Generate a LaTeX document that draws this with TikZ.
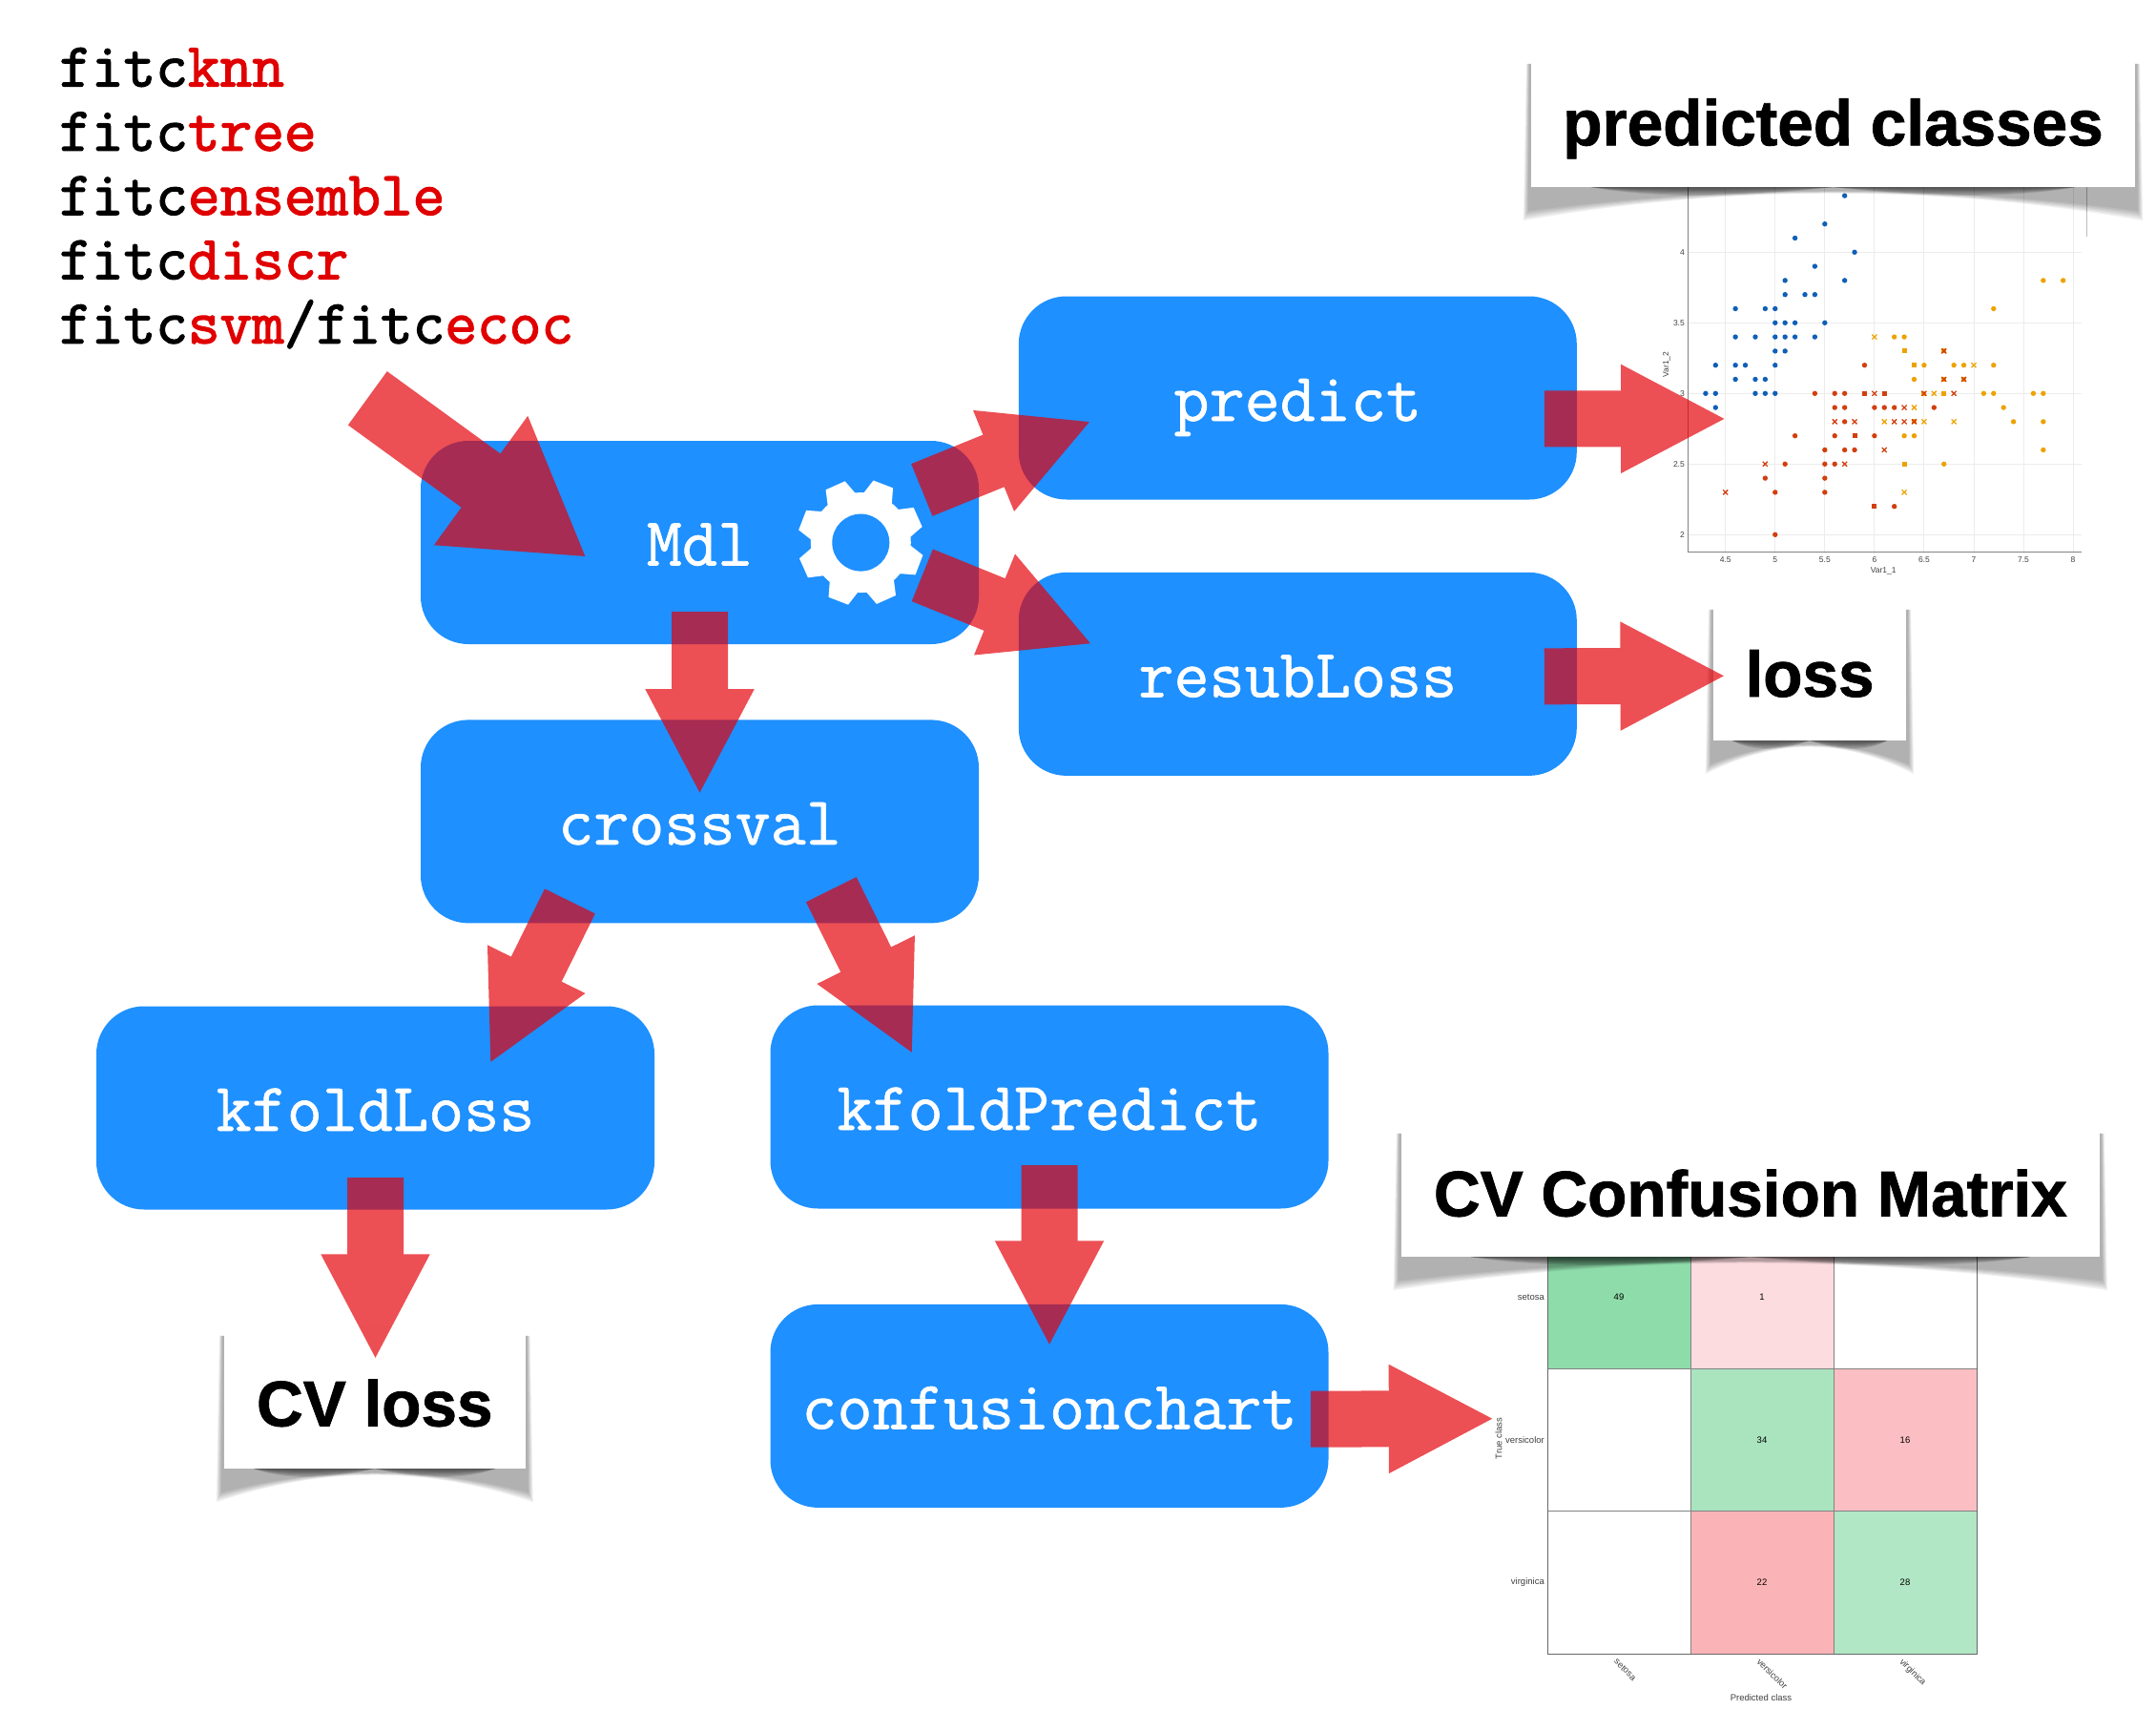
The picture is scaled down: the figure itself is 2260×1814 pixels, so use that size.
\documentclass[tikz,border=0pt]{standalone}
\usepackage{fontspec}
\usepackage{tikz}
\usetikzlibrary{arrows.meta, positioning, calc}
\newfontfamily\helv{Liberation Sans}
\newfontfamily\codefont[FakeBold=2]{Latin Modern Mono}
\newfontfamily\fnfont[FakeBold=1]{Latin Modern Mono}

\definecolor{fnblue}{RGB}{30,144,255}
\definecolor{fitred}{RGB}{224,0,0}
\definecolor{arrowred}{RGB}{228,0,7}
\definecolor{ptblue}{RGB}{15,95,184}
\definecolor{ptred}{RGB}{210,63,14}
\definecolor{ptorange}{RGB}{237,162,0}
\definecolor{gridgray}{RGB}{236,236,236}
\definecolor{axisgray}{RGB}{130,130,130}

\pgfdeclarelayer{plots}
\pgfdeclarelayer{shadows}
\pgfsetlayers{plots,shadows,main}

% soft shadow of a curled sheet under a label
\newcommand{\curlshadow}[1]{%
  \foreach \d/\s in {35/8,33/7,31/6,29/5,27/4,25/3}{
    \fill[black, opacity=.06] ([shift={(-.6*\s,10)}]#1.north west) -- ([shift={(-\s,\d)}]#1.south west)
      .. controls ([shift={(0,-3)}]$(#1.south west)!.33!(#1.south east)$) and ([shift={(0,-3)}]$(#1.south west)!.67!(#1.south east)$)
      .. ([shift={(\s,\d)}]#1.south east) -- ([shift={(.6*\s,10)}]#1.north east) -- cycle;
  }
  \foreach \t in {1.5,3,...,10.5}{
    \fill[black, opacity=.1] ($(#1.south west)!.1!(#1.south east)$)
      .. controls ([shift={(0,1.1*\t)}]$(#1.south west)!.2!(#1.south east)$) and ([shift={(0,1.1*\t)}]$(#1.south west)!.34!(#1.south east)$)
      .. ($(#1.south west)!.5!(#1.south east)$) -- cycle;
    \fill[black, opacity=.1] ($(#1.south east)!.1!(#1.south west)$)
      .. controls ([shift={(0,1.1*\t)}]$(#1.south east)!.2!(#1.south west)$) and ([shift={(0,1.1*\t)}]$(#1.south east)!.34!(#1.south west)$)
      .. ($(#1.south east)!.5!(#1.south west)$) -- cycle;
  }}

\begin{document}
\begin{tikzpicture}[
    x=1pt, y=-1pt,
    fnbox/.style={fill=fnblue, rounded corners=50pt, minimum width=585pt, minimum height=213pt, inner sep=0pt,
        text height=48pt, text depth=0pt, text=white, font=\fnfont\fontsize{72}{72}\selectfont},
    codeline/.style={anchor=base west, inner sep=0pt, font=\codefont\fontsize{65.4}{65.4}\selectfont},
    sheet/.style={fill=white, inner sep=0pt, text depth=0pt, font=\helv\bfseries\addfontfeature{FakeBold=1.2}\fontsize{67.5}{67.5}\selectfont},
    bigarrow/.style={draw=arrowred, line width=59pt, shorten >=-3pt, -{Triangle[length=111pt, width=105.5pt]}},
    fitarrow/.style={draw=arrowred, line width=69.6pt, shorten >=-3pt, -{Triangle[length=137pt, width=157pt]}},
    ticklabel/.style={inner sep=0pt, text=black!75, font=\helv\fontsize{8.5}{8.5}\selectfont},
    matlabel/.style={inner sep=0pt, text=black!75, font=\helv\fontsize{9.5}{9.5}\selectfont},
    cell/.style={draw=axisgray, line width=.8pt},
    cellnum/.style={inner sep=0pt, font=\helv\fontsize{9.5}{9.5}\selectfont}
]
\useasboundingbox (0,0) rectangle (2260,1814);

% Code lines
\node[codeline] (fitknn) at (62,90.5) {fitc\textcolor{fitred}{knn}};
\node[codeline] (fittree) at (62,157.8) {fitc\textcolor{fitred}{tree}};
\node[codeline] (fitens) at (62,225.1) {fitc\textcolor{fitred}{ensemble}};
\node[codeline] (fitdiscr) at (62,292.4) {fitc\textcolor{fitred}{discr}};
\node[codeline] (fitsvm) at (62,359.7) {fitc\textcolor{fitred}{svm}/fitc\textcolor{fitred}{ecoc}};

% Function boxes
\node[fnbox] (mdl) at (733.5,568.5) {Mdl};
\node[fnbox, below=79pt of mdl] (crossval) {crossval};
\node[fnbox] (predict) at (1360.3,417) {predict};
\node[fnbox, below=76pt of predict] (resubloss) {resubLoss};
\node[fnbox] (kfoldloss) at (393.5,1161) {kfoldLoss};
\node[fnbox] (kfoldpredict) at (1100,1160) {kfoldPredict};
\node[fnbox, below=100pt of kfoldpredict] (confusion) {confusionchart};

% Gear
\begin{scope}[shift={(902.3,568.6)}]
\fill[white] (0,0) circle (52.5);
\foreach \a in {0,45,...,315}{
  \fill[white, rotate=\a+24] (49,-16) -- (65.5,-11) -- (65.5,11) -- (49,16) -- cycle;
}
\fill[fnblue] (0,0) circle (30);
\end{scope}

% Scatter plot of the classes
\begin{pgfonlayer}{plots}
\begin{scope}[shift={(1340.25,856.3)}, x=104.1pt, y=148pt]
\foreach \g in {4.5,5,...,8} \draw[gridgray, line width=.9pt] (\g,1.87) -- (\g,4.5);
\foreach \g in {2,2.5,...,4} \draw[gridgray, line width=.9pt] (4.12,\g) -- (8.09,\g);
\draw[axisgray, line width=1pt] (4.12,4.5) -- (4.12,1.88) -- (8.09,1.88);
\draw[gridgray!80!black, line width=.9pt] (8.134,4.5) -- (8.134,4.11);
\foreach \a/\b in {5.7/4.4,5.5/4.2,5.2/4.1,5.8/4,5.4/3.9,5.1/3.8,5.7/3.8,5.1/3.7,5.3/3.7,5.4/3.7,4.6/3.6,4.9/3.6,5/3.6,5/3.5,5.1/3.5,5.2/3.5,5.5/3.5,4.6/3.4,4.8/3.4,5/3.4,5.1/3.4,5.2/3.4,5.4/3.4,5/3.3,5.1/3.3,4.4/3.2,4.6/3.2,4.7/3.2,5/3.2,4.6/3.1,4.8/3.1,4.9/3.1,4.3/3,4.4/3,4.8/3,4.9/3,5/3,4.4/2.9}
  \fill[ptblue] (\a,\b) circle[radius=2.7pt];
\foreach \a/\b in {5.9/3.2,5.4/3,5.6/3,5.7/3,5.6/2.9,5.7/2.9,6/2.9,6.1/2.9,6.2/2.9,6.6/2.9,5.7/2.8,5.2/2.7,5.6/2.7,6/2.7,5.5/2.6,5.7/2.6,5.8/2.6,5.1/2.5,5.5/2.5,5.6/2.5,4.9/2.4,5.5/2.4,5/2.3,5.5/2.3,6.2/2.2,5/2}
  \fill[ptred] (\a,\b) circle[radius=2.7pt];
\foreach \a/\b in {7.7/3.8,7.9/3.8,7.2/3.6,6.2/3.4,6.3/3.4,6.5/3.2,6.8/3.2,6.9/3.2,7.2/3.2,6.4/3.1,7.1/3,7.2/3,7.6/3,7.7/3,7.3/2.9,7.4/2.8,7.7/2.8,6.3/2.7,6.4/2.7,7.7/2.6,6.7/2.5}
  \fill[ptorange] (\a,\b) circle[radius=2.7pt];
\foreach \a/\b in {5.9/3,6.1/3,5.8/2.7,6/2.2}
  \fill[ptred] ([shift={(-2.5pt,-2.5pt)}]\a,\b) rectangle ++(5pt,5pt);
\foreach \a/\b in {6.3/3.3,6.4/3.2,6.7/3,6.3/2.5,6.7/3.3,6.7/3.1,6.9/3.1,6.5/3,6.4/2.8}
  \fill[ptorange] ([shift={(-2.5pt,-2.5pt)}]\a,\b) rectangle ++(5pt,5pt);
\foreach \a/\b in {6/3,6.8/3,6.3/2.9,5.6/2.8,5.8/2.8,6.2/2.8,6.3/2.8,6.1/2.6,4.9/2.5,5.7/2.5,4.5/2.3,6.7/3.3,6.7/3.1,6.9/3.1,6.5/3,6.4/2.8}
  \draw[ptred, line width=1.3pt] ([shift={(-2.5pt,-2.5pt)}]\a,\b) -- ++(5pt,5pt) ([shift={(-2.5pt,2.5pt)}]\a,\b) -- ++(5pt,-5pt);
\foreach \a/\b in {6/3.4,7/3.2,6.6/3,6.4/2.9,6.1/2.8,6.5/2.8,6.8/2.8,6.3/2.3}
  \draw[ptorange, line width=1.3pt] ([shift={(-2.5pt,-2.5pt)}]\a,\b) -- ++(5pt,5pt) ([shift={(-2.5pt,2.5pt)}]\a,\b) -- ++(5pt,-5pt);
\foreach \g in {4.5,5,5.5,6,6.5,7,7.5,8} \node[ticklabel] at (\g,1.822) {\g};
\foreach \g in {2,2.5,3,3.5,4} \node[ticklabel, anchor=east] at (4.09,\g) {\g};
\node[ticklabel] (xlabel) at (6.09,1.745) {Var1\_1};
\node[ticklabel, rotate=90] (ylabel) at (3.907,3.205) {Var1\_2};
\end{scope}

% Confusion matrix
\fill[cell, fill={rgb,255:red,142;green,220;blue,170}] (1622,1285) rectangle (1772,1434);
\fill[cell, fill={rgb,255:red,253;green,220;blue,224}] (1772,1285) rectangle (1922,1434);
\draw[cell] (1922,1285) rectangle (2072,1434);
\draw[cell] (1622,1434) rectangle (1772,1583.5);
\fill[cell, fill={rgb,255:red,169;green,228;blue,191}] (1772,1434) rectangle (1922,1583.5);
\fill[cell, fill={rgb,255:red,251;green,191;blue,195}] (1922,1434) rectangle (2072,1583.5);
\draw[cell] (1622,1583.5) rectangle (1772,1733);
\fill[cell, fill={rgb,255:red,250;green,179;blue,182}] (1772,1583.5) rectangle (1922,1733);
\fill[cell, fill={rgb,255:red,177;green,231;blue,197}] (1922,1583.5) rectangle (2072,1733);
\draw[axisgray!80!black, line width=1pt] (1622,1285) -- (1622,1733) -- (2072,1733) -- (2072,1285);
\node[cellnum] at (1697,1359.5) {49};
\node[cellnum] at (1847,1359.5) {1};
\node[cellnum] at (1847,1509) {34};
\node[cellnum] at (1997,1509) {16};
\node[cellnum] at (1847,1658.5) {22};
\node[cellnum] at (1997,1658.5) {28};
\node[matlabel, anchor=east] at (1619,1359.5) {setosa};
\node[matlabel, anchor=east] at (1619,1509) {versicolor};
\node[matlabel, anchor=east] at (1619,1658.5) {virginica};
\node[matlabel, rotate=90] at (1571,1507.6) {True class};
\node[matlabel, rotate=-45] at (1703.6,1749.7) {setosa};
\node[matlabel, rotate=-45] at (1857.8,1754) {versicolor};
\node[matlabel, rotate=-45] at (2004.8,1752.6) {virginica};
\node[matlabel] at (1846,1778.6) {Predicted class};
\end{pgfonlayer}
\coordinate (plotin) at (1807,438.9);
\coordinate (matrixin) at (1563.8,1486.7);

% Labels on curled sheets
\node[sheet, minimum width=633pt, minimum height=139pt, text height=51.6pt] (predicted) at (1921.5,126.5) {predicted classes};
\node[sheet, minimum width=202pt, minimum height=147pt, text height=55pt] (loss) at (1897,702.5) {loss};
\node[sheet, minimum width=315.6pt, minimum height=149pt, text height=60pt] (cvloss) at (392.8,1464.5) {CV loss};
\node[sheet, minimum width=732pt, minimum height=139pt, text height=54pt] (matrix) at (1834.8,1247.5) {CV Confusion Matrix};
\begin{pgfonlayer}{shadows}
\curlshadow{predicted}
\curlshadow{loss}
\curlshadow{cvloss}
\curlshadow{matrix}
\end{pgfonlayer}

% Arrows
\coordinate (fitcend) at (385.3,417.3);
\begin{scope}[transparency group, opacity=.69]
\draw[fitarrow] (fitcend) -- ([shift={(-121,13.8)}]mdl.center);
\draw[bigarrow] ([shift={(232.8,-55)}]mdl.center) -- ([shift={(74,25.3)}]predict.west);
\draw[bigarrow] ([shift={(233.3,34.3)}]mdl.center) -- ([shift={(75,-32.3)}]resubloss.west);
\draw[bigarrow] ([shift={(0,-34)}]mdl.south) -- ([shift={(0,76)}]crossval.north);
\draw[bigarrow] ([shift={(-136.1,83.5)}]crossval.center) -- ([shift={(121,58.2)}]kfoldloss.north);
\draw[bigarrow] ([shift={(137.8,71.3)}]crossval.center) -- ([shift={(-144.4,49.1)}]kfoldpredict.north);
\draw[bigarrow] ([shift={(0,-33.7)}]kfoldloss.south) -- ([shift={(0.7,32.6)}]cvloss.north);
\draw[bigarrow] ([shift={(0,-45.7)}]kfoldpredict.south) -- ([shift={(0,41.7)}]confusion.north);
\draw[bigarrow] ([shift={(-34.2,21.9)}]predict.east) -- (plotin);
\draw[bigarrow] ([shift={(-34.2,2.4)}]resubloss.east) -- ([shift={(10.7,5.8)}]loss.west);
\draw[bigarrow] ([shift={(-18.9,13.7)}]confusion.east) -- (matrixin);
\end{scope}

\end{tikzpicture}
\end{document}
